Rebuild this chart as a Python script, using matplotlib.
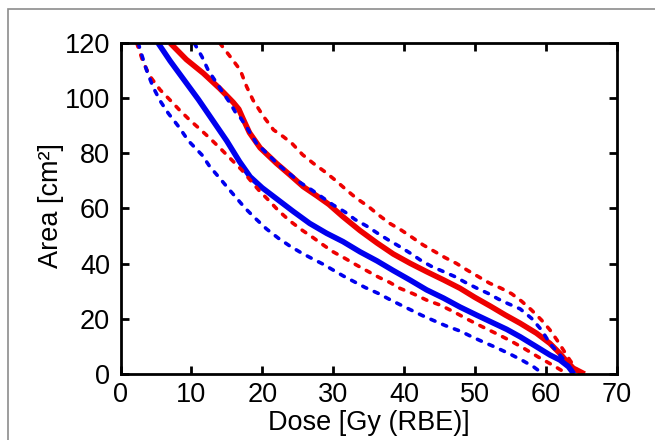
import matplotlib
matplotlib.use("Agg")
import matplotlib.pyplot as plt
from matplotlib.patches import Rectangle

plt.rcParams['font.family'] = ['Liberation Sans', 'DejaVu Sans']

# ---- data (dose [Gy (RBE)], area [cm^2]) ----
blue_solid_dose = [5.3, 7.0, 9.0, 11.0, 13.0, 15.0, 16.8, 18.3, 20.0, 22.3, 24.4, 26.7, 29.1, 31.4,
                   33.8, 36.2, 38.5, 40.9, 43.2, 45.6, 47.9, 50.3, 52.6, 54.5, 56.4, 58.7, 60.6, 62.0,
                   63.2, 64.0]
blue_solid_area = [120, 113.5, 106.5, 99.5, 92, 84.5, 77, 71.5, 67.5, 63, 58.9, 54.6, 51, 48,
                   44.3, 41, 37.5, 34, 30.5, 27.5, 24.3, 21.3, 18.5, 16.2, 13.5, 9.9, 6.9, 5.1,
                   2.7, 0]

red_solid_dose = [7.0, 9.3, 11.7, 14.0, 15.9, 16.7, 17.3, 18.2, 19.7, 22.0, 23.9, 25.8, 27.7, 29.4,
                  31.4, 33.8, 36.2, 38.5, 40.9, 43.2, 45.6, 47.9, 50.0, 52.2, 54.3, 56.4, 58.7,
                  60.6, 62.0, 63.0, 63.9, 65.5]
red_solid_area = [120, 114, 109, 103.5, 98.5, 96, 92.5, 87.5, 82, 76.4, 72.2, 67.9, 64.6, 61.5,
                  57, 52, 47.5, 43.5, 40.1, 37.1, 34.1, 31.1, 27.8, 24.6, 21.4, 18.4, 14.8,
                  11.1, 7.5, 4.5, 2.1, 0]

blue_upper_dose = [10.4, 11.5, 12.4, 13.6, 14.5, 15.5, 16.2, 16.9, 17.8, 19.2, 20.9, 22.3, 23.9,
                   25.3, 27.0, 28.5, 30.0, 31.7, 33.1, 34.7, 36.3, 37.8, 39.4, 40.9, 42.5, 43.9,
                   45.6, 47.2, 48.6, 50.3, 51.9, 53.3, 54.7, 56.4, 58.0, 59.4, 60.6, 61.8, 63.0, 63.7]
blue_upper_area = [120, 115, 110, 105.4, 101.8, 98.1, 95, 93, 89.5, 83.6, 79.4, 75.8, 72.5,
                   69.5, 66.7, 64, 61.3, 58.7, 56, 53.7, 51, 48.6, 46.2, 43.8, 41, 39,
                   37.1, 35.3, 33.3, 31.1, 29.2, 27.2, 25.5, 23.6, 20.2, 16.0, 11.1, 7.5, 3.9, 0.8]

red_upper_dose = [14.0, 15.5, 16.9, 17.8, 18.7, 20.2, 21.6, 23.0, 24.2, 25.7, 27.2, 28.8, 30.3,
                  31.9, 33.3, 35.0, 36.4, 38.0, 39.6, 41.0, 42.7, 44.4, 45.8, 47.4, 48.9, 50.5,
                  52.1, 53.7, 55.2, 56.6, 58.0, 59.4, 60.6, 61.6, 62.5, 63.4, 63.9, 64.5]
red_upper_area = [120, 115, 110.2, 104.2, 99.3, 93.3, 88.5, 86, 83.6, 79.5, 76.4, 73.4, 70.3,
                  66.7, 63.7, 60.7, 57.7, 54.6, 52.2, 49.8, 46.8, 44.3, 42.2, 40.1, 37.7, 35.3,
                  32.9, 31.1, 29.1, 26.4, 23.2, 19.6, 16.0, 12.3, 8.7, 5.1, 3.3, 1.0]

blue_lower_dose = [2.5, 2.9, 3.7, 4.6, 5.6, 6.75, 8.2, 9.6, 11.5, 12.6, 14.0, 15.2, 16.4, 17.6,
                   19.0, 20.6, 22.3, 23.9, 25.6, 27.0, 28.6, 30.0, 31.4, 34.5, 36.4, 38.0, 39.4,
                   41.0, 42.5, 44.0, 45.8, 48.0, 49.5, 51.2, 53.1, 55.0, 56.8, 58.3, 59.5]
blue_lower_area = [120, 116.5, 110, 104, 99, 94.5, 89.7, 84.5, 79.4, 75.2, 71, 67.3, 63.7, 60.1,
                   56.5, 52.6, 49.2, 46.4, 43.8, 41.9, 39.8, 37.7, 35.6, 31.4, 29.2, 27, 25.2,
                   23.2, 21.3, 19.6, 17.6, 15.5, 13.6, 11.6, 9.5, 7.2, 4.8, 2.6, 0.3]

red_lower_dose = [2.3, 3.2, 4.2, 5.6, 7.0, 8.4, 9.8, 11.2, 12.6, 14.2, 15.7, 17.1, 18.3, 19.5, 20.9,
                  22.3, 23.9, 25.6, 27.2, 28.6, 30.0, 31.7, 33.3, 35.0, 36.5, 38.0, 39.4, 41.3,
                  43.2, 45.1, 47.0, 49.0, 51.0, 53.0, 55.0, 57.0, 59.0, 60.8, 62.3, 63.0]
red_lower_area = [120, 113, 107.8, 103, 99.3, 95.5, 92, 88.8, 85.5, 81.5, 77.6, 74, 70.3, 66.7, 63,
                  59.2, 55.5, 52.2, 49.4, 46.8, 44.3, 41.9, 39.5, 37.1, 35, 33.2, 31.1, 29.1,
                  26.8, 25.0, 22.6, 19.8, 17.2, 14.7, 12.1, 9.2, 6.1, 3.5, 1.2, 0]

x_ticks = [0, 10, 20, 30, 40, 50, 60, 70]
y_ticks = [0, 20, 40, 60, 80, 100, 120]

RED = '#ee0000'
BLUE = '#0000ee'
FS = 19.5

fig = plt.figure(figsize=(6.55, 4.40), dpi=100)
fig.patch.set_facecolor('white')

# outer grey frame
fig.patches.append(Rectangle((7.5 / 655, -0.1), 1.2, 1 - 9 / 440 + 0.1,
                             transform=fig.transFigure, fill=False,
                             edgecolor='#8c8c8c', linewidth=1.2))

ax = fig.add_axes([120.5 / 655, 1 - 374 / 440, 496 / 655, 331 / 440])

solid_kw = dict(linewidth=4.0, solid_capstyle='butt', solid_joinstyle='round')
dash_kw = dict(linewidth=2.6, dashes=(1.2, 2.3), dash_capstyle='round')

ax.plot(red_solid_dose, red_solid_area, color=RED, **solid_kw)
ax.plot(blue_solid_dose, blue_solid_area, color=BLUE, **solid_kw)
ax.plot(red_lower_dose, red_lower_area, color=RED, **dash_kw)
ax.plot(blue_lower_dose, blue_lower_area, color=BLUE, **dash_kw)
ax.plot(red_upper_dose, red_upper_area, color=RED, **dash_kw)
ax.plot(blue_upper_dose, blue_upper_area, color=BLUE, **dash_kw)

ax.set_xlim(0, 70)
ax.set_ylim(0, 120)
ax.set_xticks(x_ticks)
ax.set_yticks(y_ticks)
ax.tick_params(direction='in', length=6, width=2, top=True, right=True,
               labelsize=FS, colors='black')
ax.tick_params(axis='x', pad=6)
ax.tick_params(axis='y', pad=7.5)
for s in ax.spines.values():
    s.set_linewidth(2)
    s.set_color('black')

ax.set_xlabel('Dose [Gy (RBE)]', fontsize=FS)
ax.set_ylabel('Area [cm²]', fontsize=FS)
ax.xaxis.set_label_coords(0.5, (374 - 410) / 331)
ax.yaxis.set_label_coords((64 - 120.5) / 496, (374 - 206) / 331)

fig.savefig('out.png', dpi=100)
